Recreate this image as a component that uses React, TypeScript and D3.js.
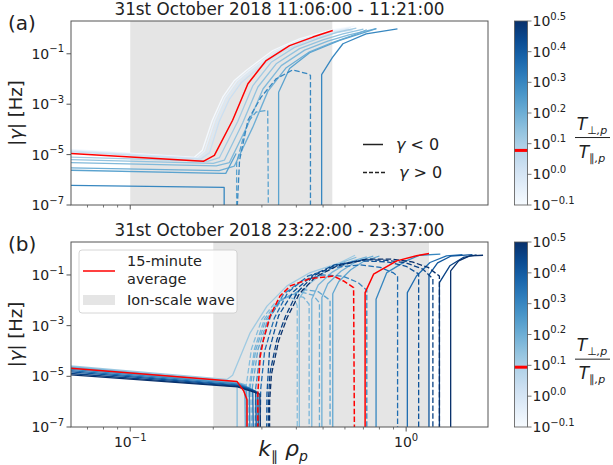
import React from "react";
import * as d3 from "d3";

type Pt = [number, number];
type Seg = { dash: boolean; pts: Pt[] };

const S = (...pts: Pt[]): Seg => ({ dash: false, pts }); // gamma < 0
const D = (...pts: Pt[]): Seg => ({ dash: true, pts }); // gamma > 0

// axis limits
const kLim: [number, number] = [0.061, 1.98];
const gLim: [number, number] = [1e-7, 2];
const ratioLim: [number, number] = [-0.1, 0.5]; // log10(T_perp/T_par) on colour bars

const kMajor = [0.1, 1];
const kMajorExp = ["−1", "0"];
const kMinor = [0.07, 0.08, 0.09, 0.2, 0.3, 0.4, 0.5, 0.6, 0.7, 0.8, 0.9];
const gTicks = [1e-7, 1e-5, 1e-3, 1e-1];
const gTickExp = ["−7", "−5", "−3", "−1"];
const cbTicks = [-0.1, 0, 0.1, 0.2, 0.3, 0.4, 0.5];
const cbTickExp = ["−0.1", "0.0", "0.1", "0.2", "0.3", "0.4", "0.5"];

// ---- panel (a)
const titleA = "31st October 2018 11:06:00 - 11:21:00";
const waveA: [number, number] = [0.1, 0.54];
const ratiosA = [-0.09, -0.05, -0.01, 0.03, 0.11, 0.14, 0.17, 0.2, 0.23, 0.3];
const curvesA: Seg[][] = [
  [S([0.0606, 1.62e-5], [0.1707, 7.8e-6], [0.1825, 1.48e-5], [0.1984, 2.3e-4], [0.2163, 1.9e-3], [0.2384, 8.8e-3], [0.263, 0.0218], [0.3285, 0.135], [0.4106, 0.39], [0.5276, 0.84], [0.65, 1.25])],
  [S([0.0606, 1.5e-5], [0.174, 7.4e-6], [0.186, 1.4e-5], [0.202, 2.2e-4], [0.22, 1.8e-3], [0.243, 8.3e-3], [0.268, 0.0205], [0.335, 0.127], [0.418, 0.37], [0.535, 0.78], [0.63, 1.1])],
  [S([0.0606, 1.42e-5], [0.177, 7e-6], [0.19, 1.3e-5], [0.206, 2.1e-4], [0.224, 1.7e-3], [0.248, 7.8e-3], [0.273, 0.0195], [0.342, 0.12], [0.426, 0.35], [0.545, 0.74], [0.62, 0.98])],
  [S([0.0606, 1.3e-5], [0.18, 6.6e-6], [0.194, 1.2e-5], [0.21, 2e-4], [0.229, 1.6e-3], [0.253, 7.3e-3], [0.279, 0.018], [0.35, 0.113], [0.436, 0.33], [0.56, 0.7], [0.64, 0.9])],
  [S([0.0606, 8e-6], [0.192, 5.5e-6], [0.2104, 7.5e-6], [0.245, 2e-4], [0.2784, 5.5e-3], [0.3243, 0.046], [0.394, 0.18], [0.479, 0.4], [0.565, 0.72], [0.66, 1.05])],
  [S([0.0606, 6.3e-6], [0.2, 4.5e-6], [0.2194, 6e-6], [0.2555, 1.8e-4], [0.2902, 4.8e-3], [0.338, 0.04], [0.411, 0.16], [0.499, 0.36], [0.59, 0.62], [0.7, 0.95])],
  [S([0.0606, 4.8e-6], [0.205, 3.6e-6], [0.2288, 4.8e-6], [0.2665, 1.5e-4], [0.3028, 4e-3], [0.3527, 0.034], [0.4287, 0.14], [0.52, 0.32], [0.62, 0.56], [0.78, 1.0])],
  [S([0.0606, 2.95e-6], [0.21, 2.3e-6], [0.2385, 3.5e-6], [0.2778, 1.2e-4], [0.3156, 3.3e-3], [0.3676, 0.028], [0.447, 0.12], [0.54, 0.28], [0.63, 0.5], [0.72, 0.9])],
  [
    S([0.0606, 2.4e-6], [0.215, 1.8e-6], [0.222, 1.8e-6], [0.242, 1.1e-5]),
    D([0.243, 1e-8], [0.243, 4.6e-6], [0.259, 6.8e-5], [0.27, 2.3e-4], [0.286, 4.9e-4], [0.315, 5.7e-4], [0.317, 1e-8]),
    S([0.345, 1e-8], [0.345, 3e-3], [0.378, 0.026], [0.447, 0.11], [0.574, 0.34], [0.78, 1.0]),
  ],
  [
    S([0.0606, 6e-7], [0.219, 5e-7], [0.219, 1e-8]),
    D([0.242, 1e-8], [0.249, 5.9e-6], [0.267, 2.3e-4], [0.298, 1.9e-3], [0.338, 0.0102], [0.388, 0.023], [0.44, 0.016], [0.45, 0.014], [0.45, 1e-8]),
    S([0.494, 1e-8], [0.494, 0.015], [0.54, 0.07], [0.59, 0.25], [0.716, 0.62], [0.93, 0.98]),
  ],
];
const avgRatioA = 0.078;
const avgA: Seg[] = [
  S([0.0606, 1.1e-5], [0.184, 5.4e-6], [0.2018, 9.3e-6], [0.235, 2.3e-4], [0.267, 6.5e-3], [0.311, 0.054], [0.378, 0.21], [0.459, 0.46], [0.542, 0.84]),
];

// ---- panel (b)
const titleB = "31st October 2018 23:22:00 - 23:37:00";
const waveB: [number, number] = [0.2, 1.21];
const ratiosB = [0.12, 0.16, 0.18, 0.2, 0.22, 0.3, 0.36, 0.42, 0.46, 0.5];
const curvesB: Seg[][] = [
  [S([0.0606, 2.6e-5], [0.224, 7.5e-6], [0.235, 1.1e-5], [0.272, 5.2e-4], [0.313, 5.9e-3], [0.37, 0.037], [0.449, 0.125], [0.577, 0.31], [0.653, 0.6])],
  [
    S([0.0606, 2.4e-5], [0.24, 6.2e-6], [0.244, 5.5e-6], [0.244, 1e-8]),
    D([0.262, 1e-8], [0.263, 4e-6], [0.275, 1.2e-4], [0.3, 1.8e-3], [0.335, 8e-3], [0.37, 0.014], [0.395, 0.011], [0.403, 6e-3], [0.403, 1e-8]),
    S([0.41, 1e-8], [0.41, 0.012], [0.44, 0.04], [0.5, 0.12], [0.58, 0.3], [0.66, 0.5]),
  ],
  [
    S([0.0606, 2.3e-5], [0.24, 6e-6], [0.262, 4.6e-6], [0.265, 1e-8]),
    D([0.268, 1e-8], [0.27, 4e-6], [0.282, 1.2e-4], [0.307, 1.9e-3], [0.345, 9e-3], [0.39, 0.017], [0.425, 0.013], [0.445, 7e-3], [0.445, 1e-8]),
    S([0.455, 1e-8], [0.455, 0.011], [0.48, 0.04], [0.54, 0.13], [0.62, 0.32], [0.72, 0.52]),
  ],
  [
    S([0.0606, 2.2e-5], [0.24, 5.7e-6], [0.26, 4.4e-6], [0.262, 1e-8]),
    D([0.27, 1e-8], [0.272, 3.5e-6], [0.285, 1.1e-4], [0.31, 1.7e-3], [0.35, 0.01], [0.41, 0.022], [0.46, 0.016], [0.485, 8e-3], [0.485, 1e-8]),
    S([0.495, 1e-8], [0.495, 0.013], [0.52, 0.045], [0.58, 0.14], [0.66, 0.34], [0.76, 0.55]),
  ],
  [
    S([0.0606, 2.1e-5], [0.24, 5.4e-6], [0.264, 4e-6], [0.266, 1e-8]),
    D([0.275, 1e-8], [0.277, 3.5e-6], [0.29, 1.1e-4], [0.315, 1.7e-3], [0.355, 0.011], [0.42, 0.027], [0.48, 0.022], [0.53, 0.01], [0.53, 1e-8]),
    S([0.542, 1e-8], [0.542, 0.018], [0.57, 0.055], [0.63, 0.16], [0.7, 0.34], [0.8, 0.56]),
  ],
  [
    S([0.0606, 1.9e-5], [0.245, 5e-6], [0.27, 3.5e-6], [0.272, 1e-8]),
    D([0.283, 1e-8], [0.285, 3.5e-6], [0.297, 1.2e-4], [0.322, 2.2e-3], [0.36, 0.018], [0.42, 0.06], [0.5, 0.1], [0.59, 0.09], [0.67, 0.05], [0.72, 0.025], [0.72, 1e-8]),
    S([0.778, 1e-8], [0.778, 0.011], [0.851, 0.124], [1.0, 0.36], [1.12, 0.6], [1.33, 0.66]),
  ],
  [
    S([0.0606, 1.7e-5], [0.245, 4.6e-6], [0.278, 3e-6], [0.28, 1e-8]),
    D([0.295, 1e-8], [0.297, 3e-6], [0.307, 1e-4], [0.333, 2e-3], [0.372, 0.02], [0.44, 0.09], [0.55, 0.2], [0.68, 0.25], [0.805, 0.2], [0.9, 0.12], [0.931, 0.09], [0.931, 1e-8]),
    S([1.01, 1e-8], [1.01, 0.02], [1.09, 0.091], [1.22, 0.31], [1.4, 0.57], [1.6, 0.63]),
  ],
  [
    S([0.0606, 1.5e-5], [0.245, 4.3e-6], [0.285, 2.6e-6], [0.287, 1e-8]),
    D([0.312, 1e-8], [0.313, 2e-6], [0.32, 1.2e-4], [0.345, 2.5e-3], [0.39, 0.022], [0.46, 0.1], [0.55, 0.25], [0.68, 0.36], [0.85, 0.33], [1.0, 0.22], [1.11, 0.11], [1.11, 1e-8]),
    S([1.21, 1e-8], [1.21, 0.1], [1.3, 0.3], [1.45, 0.55], [1.74, 0.64]),
  ],
  [
    S([0.0606, 1.3e-5], [0.245, 4e-6], [0.29, 2.3e-6], [0.292, 1e-8]),
    D([0.317, 1e-8], [0.317, 1.2e-6], [0.321, 1.35e-5], [0.34, 2.8e-4], [0.365, 2.3e-3], [0.402, 0.02], [0.461, 0.091], [0.546, 0.23], [0.7, 0.4], [0.85, 0.38], [1.0, 0.3], [1.15, 0.17], [1.25, 0.07], [1.25, 1e-8]),
    S([1.32, 1e-8], [1.32, 0.05], [1.44, 0.23], [1.61, 0.49], [1.8, 0.62]),
  ],
  [
    S([0.0606, 1.15e-5], [0.245, 3.8e-6], [0.295, 2e-6], [0.297, 1e-8]),
    D([0.32, 1e-8], [0.32, 1e-6], [0.325, 1.2e-5], [0.345, 2.5e-4], [0.37, 2e-3], [0.41, 0.018], [0.47, 0.085], [0.56, 0.22], [0.72, 0.42], [0.88, 0.42], [1.05, 0.33], [1.2, 0.2], [1.32, 0.09], [1.32, 1e-8]),
    S([1.45, 1e-8], [1.45, 0.145], [1.55, 0.36], [1.7, 0.57], [1.9, 0.6]),
  ],
];
const avgRatioB = 0.094;
const avgB: Seg[] = [
  S([0.0606, 2.1e-5], [0.244, 6.2e-6], [0.258, 2.6e-6], [0.265, 1.2e-6], [0.265, 1e-8]),
  D([0.29, 1e-8], [0.29, 2.1e-6], [0.296, 6.2e-5], [0.304, 2.8e-4], [0.321, 2.4e-3], [0.349, 0.0147], [0.38, 0.037], [0.449, 0.072], [0.545, 0.091], [0.593, 0.058], [0.645, 0.032], [0.65, 1e-8]),
  S([0.71, 1e-8], [0.71, 0.02], [0.762, 0.107], [0.925, 0.36], [1.09, 0.57], [1.21, 0.71]),
];

const FONT = "DejaVu Sans, sans-serif";
const X0 = 71;
const X1 = 488;
const CBX = 514.5;
const CBW = 13;
const blues = (r: number) => d3.interpolateBlues((r - ratioLim[0]) / (ratioLim[1] - ratioLim[0]));

type PanelProps = {
  id: string;
  top: number;
  bottom: number;
  tag: string;
  title: string;
  wave: [number, number];
  ratios: number[];
  curves: Seg[][];
  avgRatio: number;
  avg: Seg[];
  xLabels: boolean;
  legend: "sign" | "avg";
};

const Pow = ({ x, y, exp, size, sup, anchor }: { x: number; y: number; exp: string; size: number; sup: number; anchor: string }) => (
  <text x={x} y={y} fontSize={size} fontFamily={FONT} textAnchor={anchor} fill="#222">
    10<tspan dy={-size * 0.45} fontSize={sup}>{exp}</tspan>
  </text>
);

const Panel = (p: PanelProps) => {
  const x = d3.scaleLog().domain(kLim).range([X0, X1]);
  const y = d3.scaleLog().domain(gLim).range([p.bottom, p.top]);
  const cb = d3.scaleLinear().domain(ratioLim).range([p.bottom, p.top]);
  const line = d3.line<Pt>().x((d) => x(d[0])).y((d) => y(d[1]));
  const mid = (X0 + X1) / 2;
  const gradStops = d3.range(0, 1.0001, 0.1);

  const drawSegs = (segs: Seg[], color: string, key: string, w: number) =>
    segs.map((s, j) => (
      <path key={key + j} d={line(s.pts) || ""} fill="none" stroke={color} strokeWidth={w}
        strokeDasharray={s.dash ? "5.5,2.4" : undefined} strokeLinejoin="round" />
    ));

  return (
    <g>
      <defs>
        <clipPath id={"clip" + p.id}>
          <rect x={X0} y={p.top} width={X1 - X0} height={p.bottom - p.top} />
        </clipPath>
        <linearGradient id={"grad" + p.id} x1="0" y1="1" x2="0" y2="0">
          {gradStops.map((t) => (
            <stop key={t} offset={t} stopColor={d3.interpolateBlues(t)} />
          ))}
        </linearGradient>
      </defs>

      <rect x={X0} y={p.top} width={X1 - X0} height={p.bottom - p.top} fill="#fff" />
      <g clipPath={`url(#clip${p.id})`}>
        <rect x={x(p.wave[0])} y={p.top} width={x(p.wave[1]) - x(p.wave[0])} height={p.bottom - p.top} fill="#e5e5e5" />
        {p.curves.map((c, i) => drawSegs(c, blues(p.ratios[i]), `c${i}-`, 1.3))}
        {drawSegs(p.avg, "#ff0000", "avg", 1.5)}
      </g>
      <rect x={X0} y={p.top} width={X1 - X0} height={p.bottom - p.top} fill="none" stroke="#555" strokeWidth={1} />

      {/* x ticks */}
      {kMajor.map((k) => (
        <line key={"xM" + k} x1={x(k)} x2={x(k)} y1={p.bottom} y2={p.bottom + 4.5} stroke="#555" strokeWidth={1} />
      ))}
      {kMinor.map((k) => (
        <line key={"xm" + k} x1={x(k)} x2={x(k)} y1={p.bottom} y2={p.bottom + 2.5} stroke="#555" strokeWidth={0.8} />
      ))}
      {p.xLabels &&
        kMajor.map((k, i) => <Pow key={"xl" + k} x={x(k)} y={p.bottom + 20} exp={kMajorExp[i]} size={14} sup={10} anchor="middle" />)}

      {/* y ticks */}
      {gTicks.map((g, i) => (
        <g key={"y" + g}>
          <line x1={X0 - 4.5} x2={X0} y1={y(g)} y2={y(g)} stroke="#555" strokeWidth={1} />
          <Pow x={X0 - 7} y={y(g) + 5} exp={gTickExp[i]} size={14} sup={10} anchor="end" />
        </g>
      ))}

      <text x={mid} y={p.top - 6} fontSize={16.8} fontFamily={FONT} textAnchor="middle" fill="#222">{p.title}</text>
      <text x={8} y={p.top + 9} fontSize={20} fontFamily={FONT} fill="#222">{p.tag}</text>
      <text transform={`translate(22,${(p.top + p.bottom) / 2}) rotate(-90)`} fontSize={18} fontFamily={FONT} textAnchor="middle" fill="#222">
        |<tspan fontStyle="italic">γ</tspan>| [Hz]
      </text>

      {p.legend === "sign" ? (
        <g fontFamily={FONT} fontSize={16} fill="#222">
          <line x1={363} x2={383} y1={144.5} y2={144.5} stroke="#222" strokeWidth={1.5} />
          <text x={396} y={150}><tspan fontStyle="italic">γ</tspan> &lt; 0</text>
          <line x1={363} x2={387} y1={172.5} y2={172.5} stroke="#222" strokeWidth={1.3} strokeDasharray="4,2" />
          <text x={399} y={178}><tspan fontStyle="italic">γ</tspan> &gt; 0</text>
        </g>
      ) : (
        <g fontFamily={FONT} fontSize={14.5} fill="#222">
          <rect x={79} y={p.top + 8} width={158} height={63} rx={3} fill="#fff" fillOpacity={0.85} stroke="#ccc" strokeWidth={0.8} />
          <line x1={83} x2={115} y1={p.top + 29} y2={p.top + 29} stroke="#ff0000" strokeWidth={1.5} />
          <text x={127} y={p.top + 24}>15-minute</text>
          <text x={127} y={p.top + 41.5}>average</text>
          <rect x={83} y={p.top + 53} width={32} height={10} fill="#e5e5e5" />
          <text x={127} y={p.top + 63}>Ion-scale wave</text>
        </g>
      )}

      {/* colour bar */}
      <rect x={CBX} y={p.top} width={CBW} height={p.bottom - p.top} fill={`url(#grad${p.id})`} />
      <line x1={CBX} x2={CBX + CBW} y1={cb(p.avgRatio)} y2={cb(p.avgRatio)} stroke="#ff0000" strokeWidth={3} />
      <rect x={CBX} y={p.top} width={CBW} height={p.bottom - p.top} fill="none" stroke="#555" strokeWidth={0.8} />
      {cbTicks.map((t, i) => (
        <g key={"cb" + t}>
          <line x1={CBX + CBW} x2={CBX + CBW + 4} y1={cb(t)} y2={cb(t)} stroke="#555" strokeWidth={0.8} />
          <Pow x={CBX + CBW + 5} y={cb(t) + 5} exp={cbTickExp[i]} size={14} sup={10} anchor="start" />
        </g>
      ))}
      <g fontFamily={FONT} fill="#222" textAnchor="middle">
        <text x={592} y={cb(0.12) - 8} fontSize={17} fontStyle="italic">
          T<tspan fontSize={11} dy={4} fontStyle="normal">⊥</tspan><tspan fontSize={11}>,</tspan><tspan fontSize={11} fontStyle="italic">p</tspan>
        </text>
        <line x1={575} x2={610} y1={cb(0.12)} y2={cb(0.12)} stroke="#222" strokeWidth={1} />
        <text x={592} y={cb(0.12) + 20} fontSize={17} fontStyle="italic">
          T<tspan fontSize={11} dy={4} fontStyle="normal">∥</tspan><tspan fontSize={11}>,</tspan><tspan fontSize={11} fontStyle="italic">p</tspan>
        </text>
      </g>
    </g>
  );
};

export default function App() {
  return (
    <svg width={613} height={465} style={{ position: "absolute", left: 0, top: 0, background: "#fff" }}>
      <Panel id="a" top={21} bottom={205} tag="(a)" title={titleA} wave={waveA} ratios={ratiosA} curves={curvesA}
        avgRatio={avgRatioA} avg={avgA} xLabels={false} legend="sign" />
      <Panel id="b" top={242} bottom={427} tag="(b)" title={titleB} wave={waveB} ratios={ratiosB} curves={curvesB}
        avgRatio={avgRatioB} avg={avgB} xLabels={true} legend="avg" />
      <text x={283} y={456} fontSize={22} fontFamily={FONT} textAnchor="middle" fill="#222" fontStyle="italic">
        k<tspan fontSize={14} dy={5} fontStyle="normal">∥</tspan><tspan dy={-5}> ρ</tspan><tspan fontSize={14} dy={5}>p</tspan>
      </text>
    </svg>
  );
}
